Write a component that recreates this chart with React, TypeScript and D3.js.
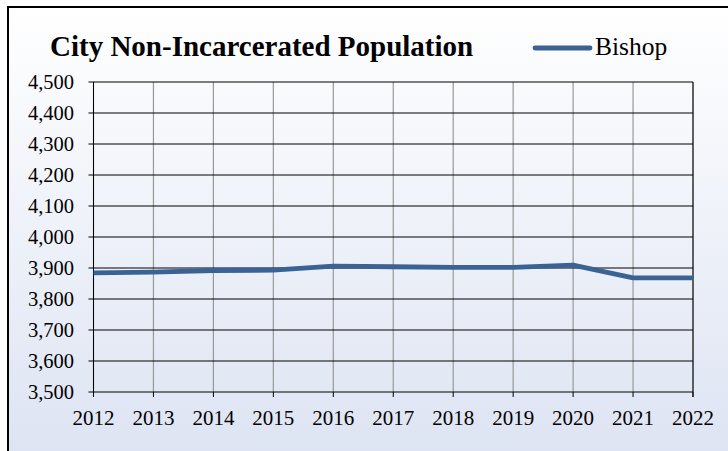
import React from 'react';
import * as d3 from 'd3';

const years = [2012, 2013, 2014, 2015, 2016, 2017, 2018, 2019, 2020, 2021, 2022];
const bishop = [3884, 3887, 3892, 3893, 3906, 3904, 3902, 3902, 3909, 3868, 3868];
const yTicks = [3500, 3600, 3700, 3800, 3900, 4000, 4100, 4200, 4300, 4400, 4500];

const width = 728;
const height = 451;
const margin = { left: 93.5, right: 35, top: 82, bottom: 59 };

export default function App() {
  const x = d3.scaleLinear().domain([2012, 2022]).range([margin.left, width - margin.right]);
  const y = d3.scaleLinear().domain([3500, 4500]).range([height - margin.bottom, margin.top]);
  const line = d3.line<number>().x((d, i) => x(years[i])).y(d => y(d));
  const fmt = d3.format(',');
  const serif = '"Liberation Serif", "Times New Roman", serif';

  return (
    <svg width={width} height={height} style={{ position: 'absolute', left: 0, top: 0, display: 'block' }}>
      <defs>
        <linearGradient id="bg" x1="0" y1="0" x2="0" y2="1">
          <stop offset="0" stopColor="#ffffff" />
          <stop offset="1" stopColor="#dce3f2" />
        </linearGradient>
      </defs>
      <rect x={8} y={7} width={740} height={460} fill="url(#bg)" stroke="#000" strokeWidth={2} />

      {/* vertical grid */}
      {years.map(yr => (
        <line key={'v' + yr} x1={x(yr)} x2={x(yr)} y1={y(4500)} y2={y(3500)} stroke="#999" strokeWidth={1.2} />
      ))}
      {/* horizontal grid */}
      {yTicks.map(t => (
        <line key={'h' + t} x1={x(2012) - 5} x2={x(2022)} y1={y(t)} y2={y(t)} stroke="#000" strokeWidth={1} />
      ))}
      <line x1={x(2012)} x2={x(2012)} y1={y(4500)} y2={y(3500)} stroke="#000" strokeWidth={1} />
      <line x1={x(2022)} x2={x(2022)} y1={y(4500)} y2={y(3500) + 5} stroke="#000" strokeWidth={1} />
      {years.map(yr => (
        <line key={'xt' + yr} x1={x(yr)} x2={x(yr)} y1={y(3500)} y2={y(3500) + 5} stroke="#000" strokeWidth={1} />
      ))}

      {yTicks.map(t => (
        <text key={'yl' + t} x={x(2012) - 19.5} y={y(t)} dy="0.34em" textAnchor="end"
          fontFamily={serif} fontSize={20.5} fill="#000">{fmt(t)}</text>
      ))}
      {years.map(yr => (
        <text key={'xl' + yr} x={x(yr)} y={425} textAnchor="middle"
          fontFamily={serif} fontSize={21} fill="#000">{yr}</text>
      ))}

      <path d={line(bishop) || ''} fill="none" stroke="#3b6295" strokeWidth={4.8} strokeLinejoin="round" />

      <text x={50} y={56} fontFamily={serif} fontWeight="bold" fontSize={29} fill="#000">City Non-Incarcerated Population</text>
      <line x1={535} x2={590} y1={48} y2={48} stroke="#3b6295" strokeWidth={4.8} strokeLinecap="round" />
      <text x={595} y={55} fontFamily={serif} fontSize={25.5} fill="#000">Bishop</text>
    </svg>
  );
}
